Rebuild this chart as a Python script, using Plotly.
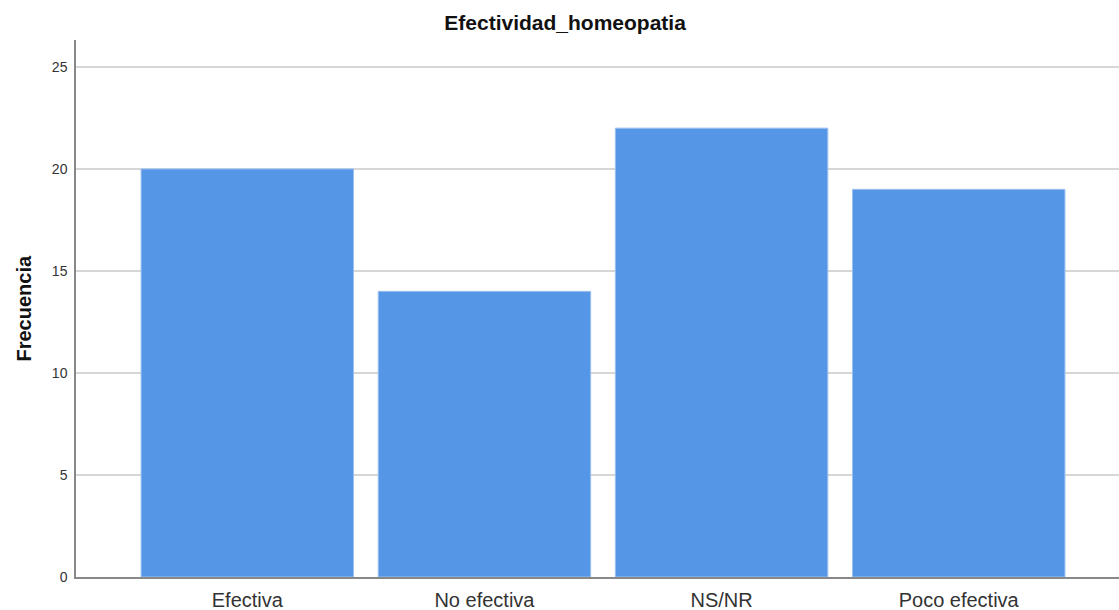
import plotly.graph_objects as go

categories = ["Efectiva", "No efectiva", "NS/NR", "Poco efectiva"]
frecuencia = [20, 14, 22, 19]
y_ticks = [0, 5, 10, 15, 20, 25]

fig = go.Figure(
    go.Bar(
        x=categories,
        y=frecuencia,
        marker=dict(color="#5596E6", line=dict(color="#9cc0ef", width=1)),
        hoverinfo="x+y",
    )
)

fig.update_layout(
    width=1119,
    height=610,
    margin=dict(l=76, r=0, t=40, b=33),
    paper_bgcolor="white",
    plot_bgcolor="white",
    bargap=0.104,
    showlegend=False,
    font=dict(family="Liberation Sans, Arial, sans-serif", color="#222"),
    title=dict(
        text="<b>Efectividad_homeopatia</b>",
        x=0.505,
        xref="container",
        xanchor="center",
        y=1 - 23 / 610,
        yref="container",
        yanchor="middle",
        font=dict(size=21, color="#111"),
    ),
    xaxis=dict(
        type="category",
        range=[-0.7225, 3.676],
        showline=True,
        linecolor="#888",
        linewidth=1.5,
        showgrid=False,
        ticks="",
        tickfont=dict(size=20, color="#333"),
        ticklabelstandoff=4,
        fixedrange=True,
    ),
    yaxis=dict(
        range=[0, 26.32],
        tickvals=y_ticks,
        showline=True,
        linecolor="#888",
        linewidth=1.5,
        showgrid=True,
        gridcolor="#d6d6d6",
        gridwidth=1.5,
        zeroline=False,
        ticks="",
        tickfont=dict(size=14, color="#333"),
        ticklabelstandoff=4,
        fixedrange=True,
    ),
    annotations=[
        dict(
            text="<b>Frecuencia</b>",
            xref="paper",
            yref="paper",
            x=(23 - 76) / 1043,
            y=0.5,
            textangle=-90,
            showarrow=False,
            xanchor="center",
            yanchor="middle",
            font=dict(size=20, color="#111"),
        )
    ],
)

fig.write_html(
    "out.html",
    config={"displayModeBar": False},
    post_script="document.body.style.margin='0';document.body.style.overflow='hidden';",
)
